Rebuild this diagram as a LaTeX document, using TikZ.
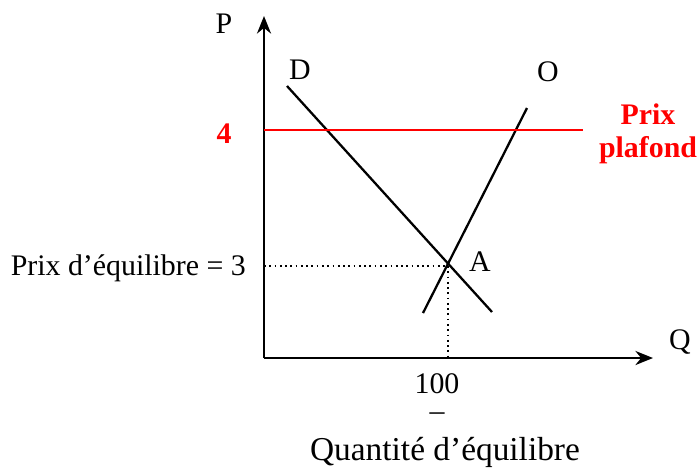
\documentclass[tikz,border=0pt]{standalone}
\usepackage{fontspec}
\setmainfont{Liberation Serif}
\usetikzlibrary{arrows.meta,positioning}

\begin{document}
\begin{tikzpicture}[>=Stealth, x=0.02cm, y=-0.02cm, font=\fontsize{17}{19}\selectfont]
\useasboundingbox (0,0) rectangle (700,468);
% axes
\coordinate (orig) at (264,358);
\coordinate (ptop) at (264,16);
\coordinate (qend) at (653,358);
\draw[->, line width=1.3pt, >={Stealth[length=10pt,width=8pt]}] (orig) -- (ptop);
\draw[->, line width=1.3pt, >={Stealth[length=10pt,width=8pt]}] (orig) -- (qend);
\node (p) at (224,24) {P};
\node (q) at (680,342) {Q};
% demand and supply
\coordinate (d1) at (287,86);
\coordinate (d2) at (492,312);
\coordinate (o1) at (423,313);
\coordinate (o2) at (527,108);
\draw[line width=1.3pt] (d1) -- (d2);
\draw[line width=1.3pt] (o1) -- (o2);
\node (dlab) at (300,70) {D};
\node (olab) at (548,72) {O};
% equilibrium
\coordinate (eq) at (448,266);
\coordinate (eqy) at (264,266);
\coordinate (eqx) at (448,358);
\draw[dotted, line width=1pt] (eqy) -- (eq);
\draw[dotted, line width=1pt] (eq) -- (eqx);
\node (alab) at (480,262) {A};
\node[anchor=east] (peq) at (252,268) {Prix d’équilibre = 3};
\node[inner sep=0pt, anchor=base, align=center, font=\fontsize{17}{15}\selectfont] (qty) at (437,420) {100\\–};
\node[font=\fontsize{19}{21}\selectfont] (qeq) at (445,452) {Quantité d’équilibre};
% price ceiling
\coordinate (c1) at (264,130);
\coordinate (c2) at (583,130);
\draw[red, line width=1.2pt] (c1) -- (c2);
\node[red, font=\fontsize{17}{19}\selectfont\bfseries] (four) at (224,134) {4};
\node[red, align=center, font=\fontsize{17}{19}\selectfont\bfseries] (plaf) at (648,134) {Prix\\plafond};
\end{tikzpicture}
\end{document}
